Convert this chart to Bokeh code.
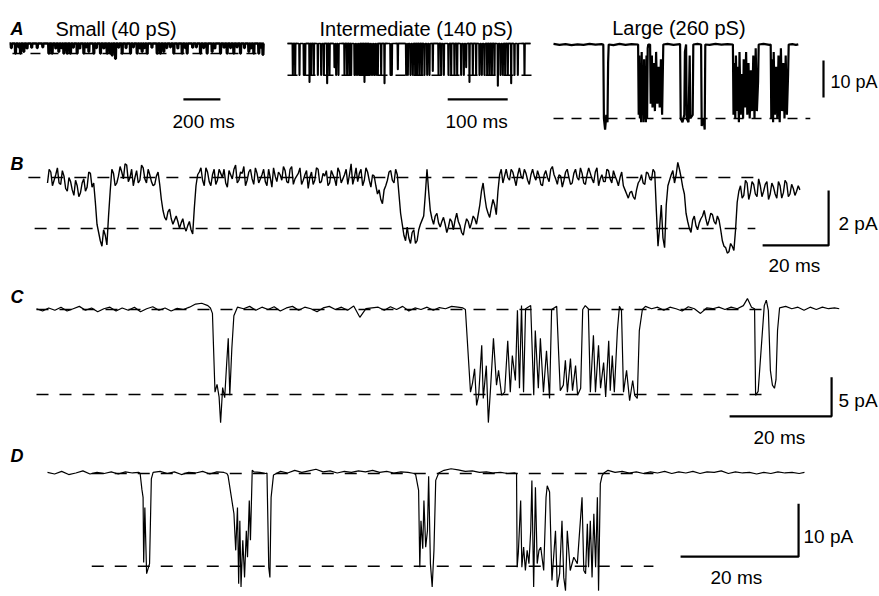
import numpy as np
from bokeh.plotting import figure
from bokeh.models import Range1d
from bokeh.core.properties import value
from bokeh.embed import file_html
from bokeh.resources import INLINE

# ===================== DATA =====================
# --- A: small channel (40 pS): brief openings, times in ms, current in pA
small_len_ms = 1375
small_open_level = -2.7
small_open_t = [32.5, 59.5, 77.5, 212.7, 230.7, 266.7, 293.7, 311.8, 329.8, 365.8,
                401.9, 428.9, 455.9, 491.9, 528, 546, 555, 573, 609, 654.1,
                690.1, 717.2, 744.2, 798.2, 816.3, 834.3, 888.3, 933.4, 960.4, 1032.5,
                1068.5, 1095.5, 1140.6, 1176.6, 1212.6, 1248.7, 1293.7, 1320.7, 1347.7, 1370]
small_open_i = [-2.7, -2.7, -2.2, -2.7, -2.7, -2.2, -2.7, -2.7, -2.7, -2.7,
                -2.7, -2.2, -2.7, -2.7, -2.7, -2.7, -3.2, -4.1, -2.7, -2.7,
                -2.7, -2.2, -2.7, -2.7, -2.7, -2.2, -2.7, -2.7, -2.7, -2.7,
                -2.7, -2.2, -2.7, -2.7, -2.7, -2.7, -2.2, -2.7, -2.7, -3.0]
small_flick_t = [10, 50, 95, 120, 150, 180, 250, 280, 345, 380, 415, 470, 510, 590, 630,
                 670, 705, 730, 770, 850, 870, 910, 950, 990, 1010, 1050, 1110, 1160, 1195,
                 1230, 1270, 1305, 1360]
small_flick_i = [-1.2, -1.0, -1.3, -1.1, -1.2, -1.0, -1.3, -1.2, -1.1, -1.3, -1.0, -1.2, -1.3, -1.1, -1.2,
                 -1.0, -1.3, -1.2, -1.1, -1.2, -1.0, -1.3, -1.2, -1.1, -1.0, -1.2, -1.3, -1.1, -1.2,
                 -1.0, -1.2, -1.3, -1.1]

# --- A: intermediate channel (140 pS)
inter_len_ms = 405
inter_open_level = -8.6
inter_open_t = [8.9, 12.8, 20, 27.2, 29.4, 36.7, 39.4, 43.9, 50.6, 56.1,
                60.6, 66.1, 70, 78.3, 81.1, 85, 95, 99.4, 103.3, 106.1,
                111.7, 114.4, 117.2, 120, 122.8, 125.6, 128.3, 131.1, 133.9, 136.7,
                139.4, 142.2, 145, 147.8, 150.6, 156.1, 161.7, 171.7, 173.9, 183.9,
                197.8, 200.6, 205, 208.9, 212.8, 216.1, 220, 223.9, 228.3, 232.8,
                236.7, 242.2, 251.7, 256.1, 260.6, 268.3, 272.8, 278.3, 282.8, 289.4,
                293.9, 297.8, 303.3, 308.9, 314.4, 320, 323.9, 328.3, 332.8, 336.7,
                340.6, 345, 350.6, 355, 358.9, 362.8, 367.2, 372.8, 378.3, 383.9,
                395]
inter_open_i = [-8.6, -8.6, -8.6, -8.6, -8.6, -10.5, -8.6, -8.6, -8.6, -8.6,
                -8.6, -10.8, -8.6, -6.5, -8.6, -8.6, -8.6, -8.6, -8.6, -8.6,
                -8.6, -8.6, -8.6, -8.6, -8.6, -8.6, -10.5, -8.6, -8.6, -8.6,
                -8.6, -8.6, -8.6, -8.6, -8.6, -8.6, -10.8, -8.6, -8.6, -7.0,
                -8.6, -8.6, -8.6, -8.6, -8.6, -8.6, -8.6, -8.6, -8.6, -8.6,
                -8.6, -7.5, -8.6, -8.6, -8.6, -8.6, -8.6, -8.6, -8.6, -8.6,
                -8.6, -6.5, -10.5, -8.6, -8.6, -8.6, -8.6, -8.6, -8.6, -8.6,
                -8.6, -8.6, -11.5, -8.6, -8.6, -8.6, -8.6, -10.8, -8.6, -8.6,
                -8.6]

# --- A: large channel (260 pS), trace vertices
large_open_level = -20.0
large_t = [0, 10, 20, 30, 40, 50, 60, 70, 80, 83, 84, 86, 88, 90, 91, 92,
           100, 110, 120, 130, 141,
           142, 143, 144, 145, 146, 147, 148, 149, 150, 151, 152, 153, 154, 155, 156, 157, 158,
           161, 162, 164, 165, 167, 169, 171, 173, 175, 177, 179, 181, 183,
           190, 200, 211, 212, 215, 218, 219, 221, 222, 225, 227, 228, 232, 233,
           240, 246, 247, 250, 252, 253,
           260, 270, 280, 290, 299,
           300, 301, 303, 304, 306, 307, 309, 310, 312, 314, 316, 317, 319, 321, 323, 325, 327, 329,
           331, 333, 335, 337, 339, 341, 342,
           350, 360, 362,
           363, 364, 366, 367, 369, 371, 373, 375, 377, 379, 381, 383, 385, 387, 389, 391, 392,
           398, 404, 408]
large_i = [0.15, -0.1, 0.1, -0.15, 0.05, -0.1, 0.15, -0.05, 0.1, 0, -20, -23, -19, -21, -5, 0,
           -0.15, 0.15, -0.1, 0.1, 0,
           -19, -3, -20, -5, -21, -2, -19, -8, -21, -4, -20, -6, -21, -3, -20, -1, 0,
           0, -16, -3, -17, -5, -18, -2, -16, -6, -17, -4, -19, 0,
           0.15, -0.1, 0.1, -20, -21, -19, -2, 0, -20, -21, -3, -20, -19, 0,
           0.15, 0, -22, -20, -23, 0,
           -0.1, 0.15, -0.05, 0.1, 0,
           -19, -5, -20, -3, -18, -6, -21, -2, -19, -8, -20, -4, -17, -2, -19, -5, -20, -7,
           -18, -3, -20, -1, -18, -10, 0,
           0.15, -0.1, 0,
           -20, -4, -21, -2, -19, -6, -20, -3, -21, -1, -18, -5, -20, -3, -19, -8, 0,
           0.1, -0.1, 0.05]

# --- B: samples every 1 ms (b_i) and the samples half-way between them (b_mid), pA
b_dt_ms = 1.0
b_open_level = -1.85
b_i = [-0.2, 0.2, -0.1, 0.35, -0.25, 0.05, -0.5, -0.15, -0.65, -0.3, -0.55, -0.05, -0.35, 0.15, -0.2,
       -1.7, -2.3, -1.9, -2.45,
       -0.5, 0.15, -0.2, 0.4, -0.05, 0.45, 0.0, -0.3, 0.25, -0.1, 0.35, -0.2, 0.1, -0.3, 0.05, -0.25,
       -1.2, -1.55, -1.15, -1.7, -1.4, -1.85, -1.5, -1.95, -1.6, -2.05,
       -0.3, 0.2, -0.1, 0.35, -0.15, 0.1, -0.25, 0.3, 0.0, -0.2, 0.25, -0.05, 0.45, -0.1, 0.15, -0.3,
       0.2, -0.05, 0.35, -0.2, 0.1, -0.15, 0.3, -0.35, 0.05, 0.2, -0.1, 0.25, -0.2, 0.4, -0.05, 0.15,
       -0.25, 0.1, -0.4, 0.2, -0.1, 0.3, -0.15, 0.05, -0.3, 0.25, -0.05, 0.35, -0.2, 0.1, -0.25, 0.5,
       0.0, -0.15, 0.3, -0.1, 0.2, -0.35, 0.05, -0.6, -0.8, -0.45, -0.1, 0.25, -0.2, 0.1,
       -1.3, -2.1, -1.8, -2.4, -1.9, -2.3, -1.7, -1.4, 0.3, -1.2, -1.7, -1.3, -1.8, -1.45, -2.0,
       -1.5, -1.9, -1.3, -1.75, -2.1, -1.5, -1.85, -1.4, -1.7, -1.0, -0.2, -1.1, -1.45, -0.8, -1.35,
       0.1, -0.2, 0.3, -0.1, 0.2, -0.3, 0.35, -0.05, 0.15, -0.25, 0.3, -0.1, 0.05, -0.3, 0.25, -0.15,
       0.4, -0.05, 0.1, -0.35, 0.2, 0.0, -0.2, 0.3, -0.1, 0.15, -0.25, 0.35, -0.05, 0.2, -0.3, 0.1,
       -0.15, 0.25, -0.2, 0.05, -0.3, 0.2, -0.45, -0.75, -0.5, -0.8, -0.2, 0.1, -0.25, 0.15, -0.1, 0.2,
       -2.5, -1.0, -2.55, -0.3, 0.1, -0.2, 0.55, 0.0, -0.6, -1.6, -2.0, -1.4, -1.9, -1.5, -1.2,
       -1.75, -1.3, -1.6, -1.4, -1.9, -2.5, -2.75, -2.4, -2.65, -0.9, -0.3, -0.65, -0.2, -0.55,
       -0.25, -0.7, -0.3, -0.5, -0.15, -0.6, -0.35, -0.75, -0.3, -0.55, -0.2, -0.6, -0.4, -0.5, -0.45]
b_mid = [0.3, -0.3, 0.1, -0.2, 0.25, -0.4, 0.0, -0.45, -0.1, -0.7, -0.2, -0.5, 0.2, -0.35,
         -0.9,
         -2.0, -2.5, -2.1,
         -1.4,
         0.3, -0.3, 0.05, 0.2, 0.5, -0.15, 0.3, 0.0, -0.2, 0.45, -0.05, 0.3, -0.15, -0.25, 0.2,
         -0.8,
         -1.45, -1.25, -1.5, -1.55, -1.6, -1.65, -1.8, -1.75, -1.9,
         -1.1,
         0.1, 0.35, -0.3, 0.2, -0.3, 0.3, -0.1, 0.15, 0.3, -0.35, 0.1, 0.3, -0.2, 0.2, 0.4, -0.1,
         0.3, -0.25, 0.15, -0.05, 0.3, -0.3, 0.0, 0.35, -0.15, 0.1, 0.4, -0.15, 0.3, -0.25, 0.05,
         0.35, -0.1, 0.25, 0.0, -0.25, 0.35, -0.2, 0.15, 0.25, -0.2, 0.1, -0.3, 0.2, -0.05, 0.3,
         0.1, -0.25, 0.35, 0.15, -0.3, 0.35, -0.1, 0.1, -0.3, -0.45, -0.95, -0.3, 0.2, -0.1, 0.3,
         -0.6,
         -1.7, -2.3, -2.2, -2.0, -2.4, -1.9, -1.55, -0.6, -0.5, -1.5, -1.4, -1.65, -1.6, -1.7,
         -1.8, -1.6, -1.55, -1.6, -2.0, -1.75, -1.6, -1.65, -1.5, -1.35, -0.5, -0.7, -1.3, -1.1, -1.0,
         -0.5,
         0.3, 0.05, 0.0, 0.3, -0.05, 0.1, 0.05, 0.3, -0.1, 0.1, 0.05, 0.25, -0.25, 0.1, 0.0, 0.3,
         0.1, -0.25, 0.05, -0.1, 0.3, -0.25, 0.15, 0.0, 0.35, -0.2, 0.1, 0.15, -0.2, 0.35, -0.05,
         -0.15, 0.3, -0.05, 0.25, -0.1, 0.0, -0.3, -0.6, -0.55, -0.7, -0.45, -0.1, -0.2, 0.2, -0.05, 0.3,
         -1.2,
         -1.8, -2.2, -1.0, -0.1, 0.25, 0.1, 0.3, -0.35, -1.3, -1.85, -1.55, -1.75, -1.65, -1.4,
         -1.5, -1.55, -1.35, -1.7, -1.55, -2.3, -2.55, -2.7, -2.5, -1.9, -0.5, -0.75, -0.1, -0.8,
         -0.15, -0.6, -0.05, -0.7, -0.25, -0.8, -0.2, -0.6, -0.15, -0.75, -0.1, -0.7, -0.25, -0.65, -0.3]

# --- C: trace vertices (ms, pA)
c_open_level = -10.9
c_t = [0, 1.2, 2.4, 3.6, 4.8, 6, 7.2, 8.4, 9.6, 10.8, 12, 13.2, 14.4, 15.6, 16.8, 18, 19.2, 20.4,
       21.6, 22.8, 24, 25.2, 26.4, 27.6, 28.8, 30, 31.2, 32.4, 33.6, 34.1,
       34.5, 34.7, 35.0, 35.4, 35.8, 36.1, 36.5, 36.9, 37.3, 37.6, 37.9, 38.3, 38.7, 39.4,
       40.6, 41.8, 43, 44.2, 45.4, 46.6, 47.8, 49, 50.2, 51.4, 52.6, 53.8, 55, 56.2, 57.4, 58.6,
       59.8, 61, 62.2, 63.4, 64.6, 65.8, 67, 68.2, 69.4, 70.6, 71.8, 73, 74.2, 75.4, 76.6, 77.8,
       79, 80.2, 81.4, 82.6, 83.6,
       84.1, 85.1, 85.5, 85.9, 86.3, 86.7, 87.3, 87.6, 88.2, 88.6, 89.0, 89.6, 90.2, 90.6, 91.2,
       91.8, 92.4, 92.9, 93.3, 93.9, 94.3, 94.7, 95.1, 95.5, 95.9, 96.9, 97.5, 97.8, 98.4, 98.8,
       99.4, 100.0, 100.6, 101.0, 102.0, 102.4, 102.7, 103.3, 103.7, 104.1, 104.7, 105.1, 105.7,
       106.1, 106.7, 107.1, 107.6, 108.2, 108.6, 109.2, 109.6, 110.2, 110.6, 111.2, 111.6, 112.2,
       112.5, 112.9, 113.3, 113.9, 114.3, 114.7, 115.1, 115.7, 116.3, 116.9, 117.3, 117.8, 118.2,
       118.8, 119.4,
       120.6, 121.8, 123, 124.2, 125.4, 126.6, 127.8, 129, 130.2, 131.4, 132.6, 133.8, 135, 136.2,
       137.4, 138.6, 139.4, 140.2, 140.8,
       141.0, 141.5, 142.7, 143.1, 143.5, 143.9, 144.3, 144.7, 145.0, 145.3, 145.7,
       146.9, 148.1, 149.3, 150.5, 151.7, 152.9, 154.1, 155.3, 156.5, 157.4]
c_i = [0.1, -0.2, 0.2, -0.1, 0.3, -0.2, 0.1, 0.4, -0.1, 0.2, -0.3, 0.1, 0.3, -0.2, 0.2, -0.1, 0.3, -0.3,
       0.1, 0.35, -0.1, 0.2, -0.2, 0.15, 0.0, 0.3, 0.7, 0.8, 0.5, 0.2,
       -0.5, -4.6, -10.6, -9.6, -11.2, -14.5, -10.0, -11.3, -6.8, -3.7, -11.0, -5.0, -0.8, 0.3,
       0.1, 0.4, -0.1, 0.3, 0.0, 0.35, -0.2, 0.2, 0.4, -0.1, 0.3, 0.1, -0.3, 0.2, 0.4, 0.0,
       0.3, -0.1, 0.45, -1.0, 0.1, 0.2, 0.3, -0.1, 0.35, 0.0, 0.4, -0.2, 0.2, 0.0, 0.3, -0.1,
       0.25, 0.1, 0.4, 0.3, 0.2,
       0, -10.6, -9.4, -7.6, -12.3, -11.0, -4.6, -11.4, -7.2, -14.5, -10.4, -3.7, -9.7, -7.8, -11.0,
       -10.6, -4.0, -10.6, -5.9, -9.1, -0.1, -10.1, 0.5, -10.6, 0.1, 0.5, -11.0, -2.7, -10.1, -3.7,
       -10.6, -5.3, -11.4, 0, 0.4, -5.9, -10.4, -9.7, -6.5, -10.6, -6.3, -10.4, -7.2,
       -11.0, -10.1, 0, 0.5, 0.1, -10.6, -3.3, -10.6, -4.6, -10.1, -6.8, -11.2, -4.0,
       -10.4, -5.9, -10.6, -2.7, 0.4, -0.1, -10.6, -7.8, -11.7, -9.1, -11.0, -11.4, -2.7,
       0, 0.4,
       0.1, 0.3, -0.1, 0.3, 0.1, -0.2, 0.35, 0.1, -0.5, 0.2, 0.1, 0.3, 0.0, 0.3,
       0.1, 0.5, 1.4, 0.3, 0.1,
       -11.0, -10.5, 0.5, 1.2, -0.1, -7.8, -9.7, -10.1, -9.0, -2.7, 0.2,
       0.4, 0.1, 0.3, -0.1, 0.3, 0.0, 0.3, 0.1, 0.2, 0.1]

# --- D: trace vertices (ms, pA)
d_open_level = -17.5
d_t = [0, 1.2, 2.4, 3.6, 4.8, 6, 7.2, 8.4, 9.6, 10.8, 12, 13.2, 14.4, 15.5,
       15.7, 16.0, 16.2, 16.3, 16.5, 16.8, 17.3, 17.6, 17.9,
       19.1, 20.3, 21.5, 22.7, 23.9, 25.1, 26.3, 27.5, 28.7, 29.9, 30.4,
       30.6, 31.6, 31.9, 32.2, 32.4, 32.6, 32.8, 33.1, 33.4, 33.7, 33.9, 34.2, 34.4, 34.7, 35.0,
       36.0, 37.0,
       37.2, 37.5, 37.7, 37.9, 38.3,
       39.5, 40.7, 41.9, 43.1, 44.3, 45.5, 46.7, 47.9, 49.1, 50.3, 51.5, 52.7, 53.9, 55.1, 56.3,
       57.5, 58.7, 59.9, 61.1, 62.2,
       62.4, 62.9, 63.1, 63.3, 63.6, 63.8, 64.1, 64.4, 64.6, 64.9, 65.2, 65.5, 65.8, 66.3,
       67.2, 68.4, 69.6, 70.8, 72, 73.2, 74.4, 75.6, 76.8, 78, 79.2,
       79.5, 79.6, 79.8, 80.2, 80.4, 80.7, 81.0, 81.3, 81.6, 81.9, 82.1, 82.4, 82.7, 83.0, 83.3,
       83.6, 84.1, 84.5, 84.7, 85.1, 85.5, 86.1, 86.4, 86.8, 87.2, 87.5, 87.8, 88.1, 88.6, 89.2,
       89.8, 90.6, 90.9, 91.2, 91.5, 91.7, 92.0, 92.3, 92.6, 92.9, 93.2, 93.4, 93.7, 94.0, 94.3,
       95.0, 96.2, 97.4, 98.6, 99.8, 101, 102.2, 103.4, 104.6, 105.8, 107, 108.2, 109.4, 110.6,
       111.8, 113, 114.2, 115.4, 116.6, 117.8, 119, 120.2, 121.4, 122.6, 123.8, 125, 126.2,
       127.4, 128.3]
d_i = [0.2, -0.1, 0.4, -0.2, 0.1, 0.5, -0.1, 0.2, 0.0, 0.3, -0.1, 0.3, 0.1, 0.2,
       0.0, -3.0, -4.5, -16.8, -6.4, -18.9, -17.0, -1.0, 0.2,
       0.4, 0.0, 0.3, -0.2, 0.2, 0.1, 0.4, -0.1, 0.3, 0.2, 0.0,
       -0.4, -7.6, -14.5, -6.4, -20.8, -8.9, -21.4, -12.6, -19.6, -10.8, -15.8, -5.1, -12.6, 0.6, 0.3,
       0.2, 0.0,
       0.1, -17.7, -19.6, -4.5, -0.3,
       0.4, 0.1, 0.6, 0.2, 0.5, 0.8, 0.3, 0.5, 0.1, 0.4, 0.2, 0.5, 0.3, 0.6, 0.2,
       0.4, 0.1, 0.3, 0.2, 0.0,
       -0.2, -3.2, -17.7, -8.9, -14.2, -5.1, -13.9, -10.8, -0.5, -17.0, -21.4, -14.5, -1.3, 0.1,
       0.6, 0.9, 0.7, 0.4, 0.5, 0.2, 0.3, 0.1, 0.2, 0.0, 0.1,
       0, -17.7, -15.0, -5.1, -17.7, -13.9, -18.3, -14.5, -17.0, -10.8, -1.3, -21.4, -2.6, -17.0, -14.5,
       -13.9, -18.3, -4.5, -2.3, -3.5, -20.2, -10.8, -21.4, -18.9, -8.9, -19.6, -22.1, -10.8, -18.3, -15.8,
       -17.0, -4.5, -18.3, -18.9, -9.5, -17.7, -8.9, -19.6, -7.6, -17.7, -4.5, -22.1, -1.9, -0.4, 0.1,
       0.6, 0.2, 0.4, 0.1, 0.3, 0.0, 0.3, 0.1, 0.4, 0.0, 0.3, 0.1, 0.4, 0.0,
       0.3, 0.2, 0.5, 0.0, 0.3, 0.1, 0.2, -0.1, 0.2, 0.0, 0.3, 0.1, 0.2,
       0.0, 0.2]

# Scale bars (ms, pA)
bar_A_small_ms = 200
bar_A_inter_ms = 100
bar_A_pa = 10
bar_B = (20, 2)
bar_C = (20, 5)
bar_D = (20, 10)

assert len(small_open_t) == len(small_open_i)
assert len(small_flick_t) == len(small_flick_i)
assert len(inter_open_t) == len(inter_open_i)
assert len(large_t) == len(large_i)
assert len(b_mid) == len(b_i) - 1, (len(b_mid), len(b_i))
assert len(c_t) == len(c_i), (len(c_t), len(c_i))
assert len(d_t) == len(d_i), (len(d_t), len(d_i))

# ===================== LAYOUT (pixels of the page) =====================
W, H, OFF = 879, 596, 0
# per panel: image x of t=0, px per ms, image y of 0 pA, px per pA
LAYOUT = {
    "sm": (9, 0.185, 43, 3.7),
    "it": (287, 0.6, 43, 3.7),
    "lg": (553, 0.6, 44, 3.7),
    "B": (47, 3.3, 177, 27.5),
    "C": (36, 5.1, 309, 7.8),
    "D": (47, 5.9, 473, 5.3),
}

p = figure(width=W, height=H, x_range=Range1d(0, W), y_range=Range1d(H, 0),
           output_backend="svg", toolbar_location=None, min_border=0,
           x_axis_location=None, y_axis_location=None)
p.outline_line_color = None
p.background_fill_color = "white"
p.border_fill_color = "white"
p.grid.visible = False

xr, yr = {}, {}
for name, (x0, ppm, y0, ppa) in LAYOUT.items():
    xr[name] = Range1d((OFF - x0) / ppm, (OFF + W - x0) / ppm)
    yr[name] = Range1d((y0 - OFF - H) / ppa, (y0 - OFF) / ppa)
p.extra_x_ranges = xr
p.extra_y_ranges = yr


def dips(times, depths, width, t_end):
    xs, ys = [0.0], [0.0]
    for t, d in sorted(zip(times, depths)):
        xs += [t - width / 2, t - width / 4, t + width / 4, t + width / 2]
        ys += [0.0, d, d, 0.0]
    xs.append(t_end)
    ys.append(0.0)
    return xs, ys


def line(panel, xs, ys, **kw):
    p.line(xs, ys, x_range_name=panel, y_range_name=panel, line_color="black", **kw)


# dashed reference levels (closed / open)
DASH = "12 11"
dashes = [("sm", 16, 1373, small_open_level, "10 8"),
          ("it", 0, 405, 0, "10 8"), ("it", 0, 410, inter_open_level, "10 8"),
          ("lg", 0, 428, large_open_level, "10 8"),
          ("B", -5.8, 215, 0, DASH), ("B", -3.9, 214.5, b_open_level, DASH),
          ("C", 0, 142.5, 0, DASH), ("C", 0, 142.5, c_open_level, DASH),
          ("D", 7.5, 102.7, 0, DASH), ("D", 7.5, 102.7, d_open_level, DASH)]
for panel, t0, t1, lev, dash in dashes:
    line(panel, [t0, t1], [lev, lev], line_width=1.5, line_dash=dash)

# traces
sx, sy = dips(small_open_t + small_flick_t, small_open_i + small_flick_i, 6.0, small_len_ms)
line("sm", sx, sy, line_width=2.6)
ix, iy = dips(inter_open_t, inter_open_i, 2.0, inter_len_ms)
line("it", ix, iy, line_width=1.5)
line("lg", large_t, large_i, line_width=2.2)
bt, bi = [], []
for k, v in enumerate(b_i):
    bt.append(k * b_dt_ms)
    bi.append(v)
    if k < len(b_mid):
        bt.append((k + 0.5) * b_dt_ms)
        bi.append(b_mid[k])
line("B", bt, bi, line_width=1.4)
line("C", c_t, c_i, line_width=1.2)
line("D", d_t, d_i, line_width=1.2)

# scale bars
BW = 2.2
line("sm", [940, 940 + bar_A_small_ms], [-15.1, -15.1], line_width=BW)
line("it", [267, 267 + bar_A_inter_ms], [-15.1, -15.1], line_width=BW)
line("lg", [450, 450], [-14.3, -14.3 + bar_A_pa], line_width=BW)
line("B", [236.7 - bar_B[0], 236.7, 236.7], [-2.47, -2.47, -2.47 + bar_B[1]], line_width=BW)
line("C", [155.9 - bar_C[0], 155.9, 155.9], [-13.7, -13.7, -13.7 + bar_C[1]], line_width=BW)
line("D", [127.3 - bar_D[0], 127.3, 127.3], [-15.7, -15.7, -15.7 + bar_D[1]], line_width=BW)

# texts (page pixel positions)
FONT = value("Liberation Sans")
letters = ["A", "B", "C", "D"]
letters_x = [10, 10, 10, 10]
letters_y = [28.3, 163.3, 296.7, 455]
p.text(letters_x, letters_y, text=letters, text_font=FONT, text_font_size="18px",
       text_font_style="bold italic", text_baseline="alphabetic", text_color="black")

titles = ["Small (40 pS)", "Intermediate (140 pS)", "Large (260 pS)"]
titles_x = [55, 319, 611.7]
titles_y = [28.3, 28.3, 27.5]
p.text(titles_x, titles_y, text=titles, text_font=FONT, text_font_size="20px",
       text_baseline="alphabetic", text_color="black")

labels = [f"{bar_A_small_ms} ms", f"{bar_A_inter_ms} ms",
          f"{bar_B[1]} pA", f"{bar_B[0]} ms", f"{bar_C[1]} pA", f"{bar_C[0]} ms",
          f"{bar_D[1]} pA", f"{bar_D[0]} ms"]
labels_x = [172, 445, 838, 768, 838, 753, 803, 710]
labels_y = [120.7, 120.7, 222.7, 265, 400, 436.7, 536, 576.7]
p.text(labels_x, labels_y, text=labels, text_font=FONT, text_font_size="19px",
       text_baseline="alphabetic", text_color="black")
p.text([830], [81.7], text=[f"{bar_A_pa} pA"], text_font=FONT, text_font_size="18px",
       text_baseline="alphabetic", text_color="black")

open("out.html", "w").write(file_html(p, INLINE))
